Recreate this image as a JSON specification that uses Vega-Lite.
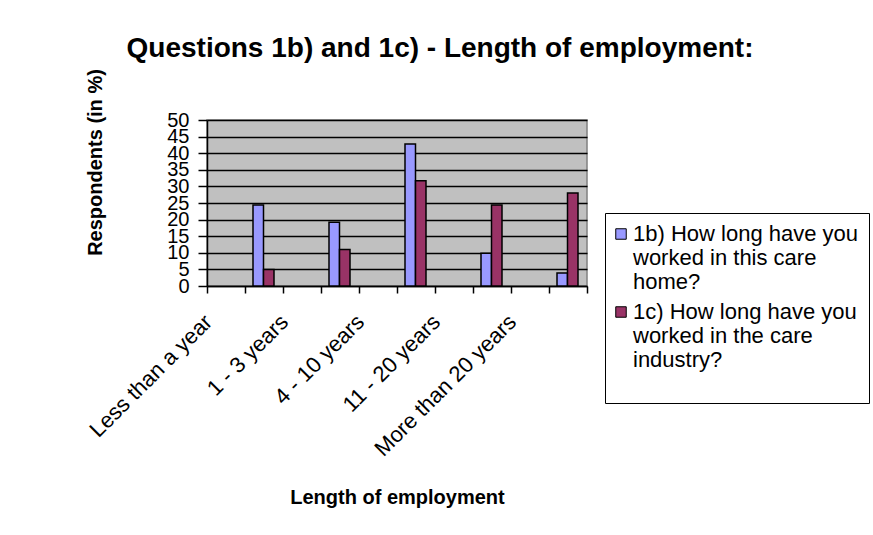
{
  "$schema": "https://vega.github.io/schema/vega-lite/v6.json",
  "width": 380,
  "height": 166,
  "autosize": {"type": "none"},
  "padding": {"left": 207, "top": 120, "right": 286, "bottom": 249},
  "background": "white",
  "title": {
    "text": "Questions 1b) and 1c) - Length of employment:",
    "font": "Liberation Sans",
    "fontSize": 28,
    "fontWeight": "bold",
    "color": "black",
    "anchor": "middle",
    "dx": 43,
    "offset": 6
  },
  "data": {
    "values": [
      {"category": "Less than a year", "series": "1b) How long have you worked in this care home?", "value": 24.4},
      {"category": "Less than a year", "series": "1c) How long have you worked in the care industry?", "value": 5},
      {"category": "1 - 3 years", "series": "1b) How long have you worked in this care home?", "value": 19.2},
      {"category": "1 - 3 years", "series": "1c) How long have you worked in the care industry?", "value": 11},
      {"category": "4 - 10 years", "series": "1b) How long have you worked in this care home?", "value": 42.8},
      {"category": "4 - 10 years", "series": "1c) How long have you worked in the care industry?", "value": 31.7},
      {"category": "11 - 20 years", "series": "1b) How long have you worked in this care home?", "value": 9.9},
      {"category": "11 - 20 years", "series": "1c) How long have you worked in the care industry?", "value": 24.4},
      {"category": "More than 20 years", "series": "1b) How long have you worked in this care home?", "value": 3.9},
      {"category": "More than 20 years", "series": "1c) How long have you worked in the care industry?", "value": 28}
    ]
  },
  "layer": [
    {
      "mark": {"type": "bar", "stroke": "black", "strokeWidth": 1.5},
      "encoding": {
        "x": {
          "field": "category",
          "type": "nominal",
          "sort": ["Less than a year", "1 - 3 years", "4 - 10 years", "11 - 20 years", "More than 20 years"],
          "scale": {"paddingInner": 0, "paddingOuter": 0},
          "axis": {
            "title": "Length of employment",
            "titleFontSize": 20,
            "titleFontWeight": "bold",
            "titleColor": "black",
            "titlePadding": 28,
            "labelAngle": -45,
            "labelAlign": "right",
            "labelBaseline": "top",
            "labelOffset": -44,
            "labelFontSize": 22,
            "labelColor": "black",
            "labelPadding": 18,
            "labelLimit": 0,
            "labelOverlap": false,
            "tickBand": "extent",
            "tickSize": 7,
            "tickColor": "black",
            "tickWidth": 1.5,
            "domainColor": "black",
            "domainWidth": 1.5
          }
        },
        "xOffset": {
          "field": "series",
          "scale": {
            "domain": ["1b) How long have you worked in this care home?", "1c) How long have you worked in the care industry?"],
            "paddingInner": 0,
            "paddingOuter": 0,
            "range": [46, 67]
          }
        },
        "y": {
          "field": "value",
          "type": "quantitative",
          "scale": {"domain": [0, 50], "nice": false},
          "axis": {
            "title": "Respondents (in %)",
            "titleFontSize": 20,
            "titleFontWeight": "bold",
            "titleColor": "black",
            "titlePadding": 61,
            "titleY": 42,
            "values": [0, 5, 10, 15, 20, 25, 30, 35, 40, 45, 50],
            "labelFontSize": 20,
            "labelColor": "black",
            "labelPadding": 9,
            "labelOverlap": false,
            "tickSize": 9,
            "tickColor": "black",
            "tickWidth": 1.5,
            "grid": true,
            "gridColor": "black",
            "gridWidth": 1.5,
            "domainColor": "black",
            "domainWidth": 1.5
          }
        },
        "color": {
          "field": "series",
          "type": "nominal",
          "scale": {
            "domain": ["1b) How long have you worked in this care home?", "1c) How long have you worked in the care industry?"],
            "range": ["#9999FF", "#993366"]
          },
          "legend": {
            "orient": "none",
            "legendX": 398,
            "legendY": 93,
            "title": " ",
            "titleOrient": "bottom",
            "titleFontSize": 14,
            "titlePadding": 8,
            "strokeColor": "black",
            "fillColor": "white",
            "padding": 10,
            "symbolType": "square",
            "symbolSize": 110,
            "symbolOffset": -5,
            "symbolStrokeColor": "black",
            "symbolStrokeWidth": 1,
            "labelFontSize": 22,
            "labelColor": "black",
            "labelLimit": 0,
            "labelOffset": 1,
            "rowPadding": 8,
            "labelExpr": "datum.label == '1b) How long have you worked in this care home?' ? ['1b) How long have you', 'worked in this care', 'home?'] : ['1c) How long have you', 'worked in the care', 'industry?']"
          }
        }
      }
    },
    {
      "mark": {"type": "point", "opacity": 0},
      "encoding": {
        "x": {
          "field": "category",
          "type": "nominal",
          "sort": ["Less than a year", "1 - 3 years", "4 - 10 years", "11 - 20 years", "More than 20 years"],
          "axis": {
            "orient": "bottom",
            "title": null,
            "labels": false,
            "domain": false,
            "tickBand": "center",
            "tickSize": 7,
            "tickColor": "black",
            "tickWidth": 1.5
          }
        }
      }
    }
  ],
  "resolve": {"axis": {"x": "independent"}},
  "config": {
    "font": "Liberation Sans",
    "view": {"fill": "#C0C0C0", "stroke": "#808080", "strokeWidth": 1.5}
  }
}
